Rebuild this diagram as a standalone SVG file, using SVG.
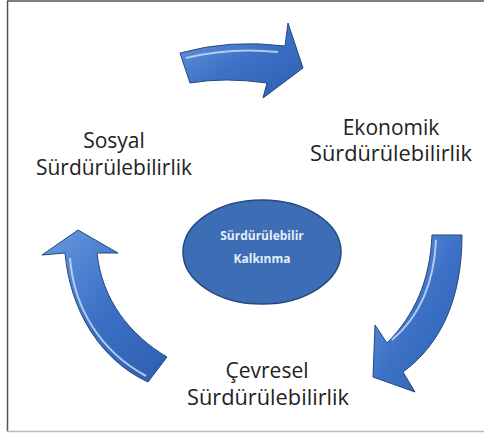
<svg xmlns="http://www.w3.org/2000/svg" width="484" height="433" viewBox="0 0 484 433">
<defs>
<linearGradient id="ag" x1="0" y1="0" x2="1" y2="1">
<stop offset="0" stop-color="#6a9be0"/>
<stop offset="0.5" stop-color="#3c71c6"/>
<stop offset="1" stop-color="#2e5fb0"/>
</linearGradient>
<style>
.arrow{fill:url(#ag);stroke:#24487f;stroke-width:1;stroke-linejoin:miter}
.hl{fill:none;stroke:#cfe0f7;stroke-width:2;opacity:0.8}
.lbl{font-family:"Open Sans","Noto Sans",sans-serif;font-size:21px;fill:#222;text-anchor:middle}
.in{font-family:"Open Sans","Noto Sans",sans-serif;font-size:12px;font-weight:bold;fill:#e6eef9;text-anchor:middle}
</style>
</defs>
<rect width="484" height="433" fill="#fff"/>
<line x1="7" y1="1" x2="484" y2="1" stroke="#555" stroke-width="1.5"/>
<line x1="7.5" y1="1" x2="7.5" y2="432" stroke="#555" stroke-width="1.5"/>
<line x1="7" y1="431.5" x2="484" y2="431.5" stroke="#bbb" stroke-width="1.5"/>
<g id="connectors">
<g id="arrow-top">
<path class="arrow" d="M180,53 Q230,39 285,46 L288,23 L303,68 L263,98 L267,83 Q225,77 190,83 Z"/>
<path class="hl" d="M186,58 Q230,47 278,52"/>
</g>
<g id="arrow-right">
<path class="arrow" d="M432,235 L462,235 C462,300 440,345 403,372 L415,392 L373,377 L375,325 L387,343 C415,315 430,280 432,235 Z"/>
<path class="hl" d="M436,240 C434,285 418,318 392,340"/>
</g>
<g id="arrow-left">
<path class="arrow" d="M78,230 L118,253 L97,253 C102,300 130,335 167,357 L148,382 C100,360 70,310 65,253 L42,255 Z"/>
<path class="hl" d="M70,258 C74,310 102,352 146,376"/>
</g>
</g>
<g id="node-center">
<ellipse cx="262" cy="252" rx="79" ry="52" fill="#3c6db5" stroke="#24487f" stroke-width="1.5"/>
<text class="in" x="262" y="240">Sürdürülebilir</text>
<text class="in" x="262" y="263">Kalkınma</text>
</g>
<g id="node-sosyal">
<text class="lbl" x="114" y="148">Sosyal</text>
<text class="lbl" x="114" y="175" textLength="156" lengthAdjust="spacingAndGlyphs">Sürdürülebilirlik</text>
</g>
<g id="node-ekonomik">
<text class="lbl" x="391" y="135">Ekonomik</text>
<text class="lbl" x="391" y="161" textLength="162" lengthAdjust="spacingAndGlyphs">Sürdürülebilirlik</text>
</g>
<g id="node-cevresel">
<text class="lbl" x="267" y="378">Çevresel</text>
<text class="lbl" x="268" y="405" textLength="162" lengthAdjust="spacingAndGlyphs">Sürdürülebilirlik</text>
</g>
</svg>
